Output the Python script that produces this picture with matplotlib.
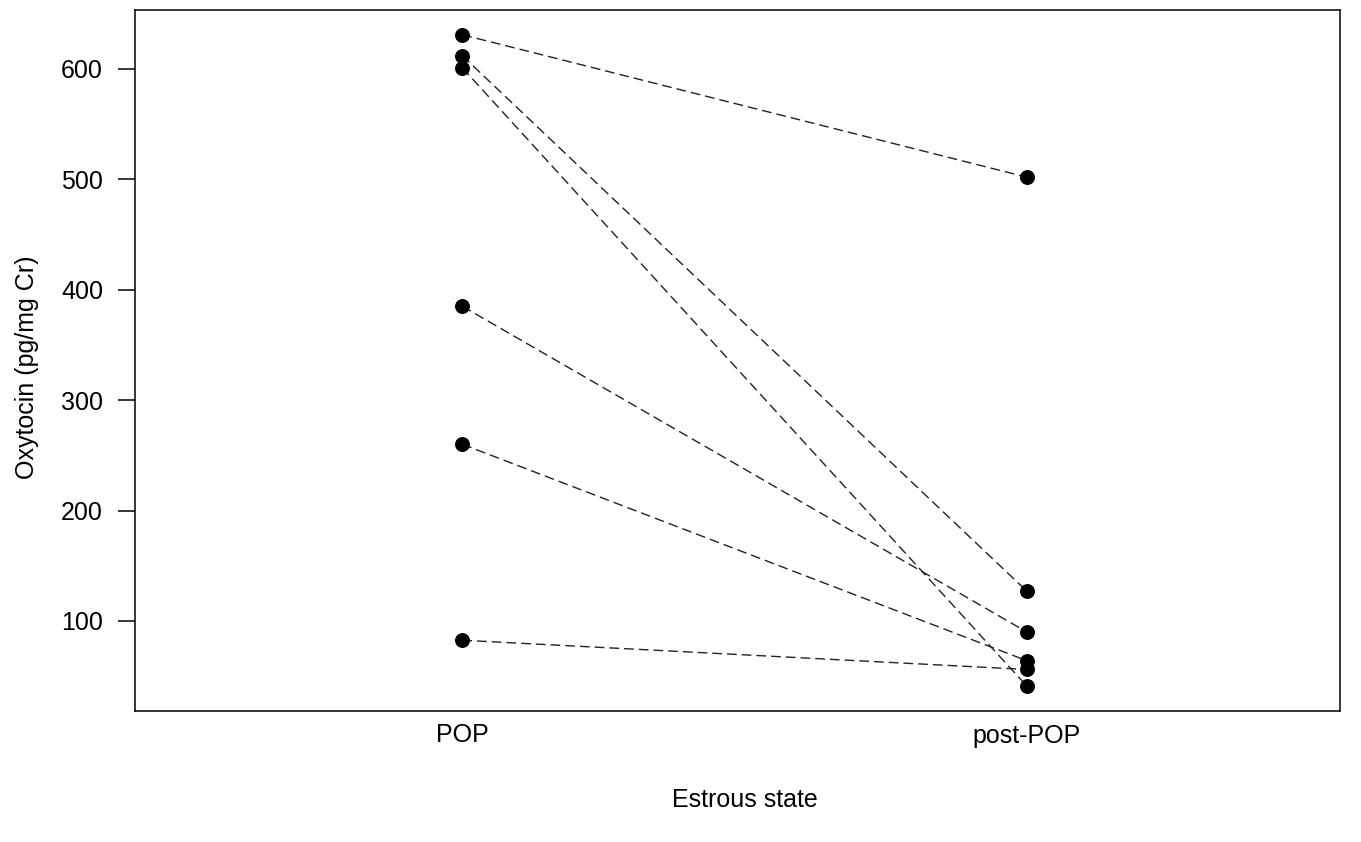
import matplotlib
matplotlib.use("Agg")
import matplotlib.pyplot as plt

states = ["POP", "post-POP"]
pop = [631, 612, 601, 385, 260, 82.5]
post_pop = [502, 127, 41, 90, 64, 56]
yticks = [100, 200, 300, 400, 500, 600]

plt.rcParams["font.family"] = ["Liberation Sans", "DejaVu Sans"]

fig = plt.figure(figsize=(13.61, 8.42), dpi=100)
ax = fig.add_axes([135 / 1361, 1 - 711 / 842, 1205 / 1361, 701 / 842])

# paired lines, one per animal
for a, b in zip(pop, post_pop):
    ax.plot([1, 2], [a, b], color="#222222", lw=1.0, ls=(0, (7, 3.6)), zorder=1)
ax.scatter([1] * len(pop), pop, s=95, color="black", zorder=2)
ax.scatter([2] * len(post_pop), post_pop, s=95, color="black", zorder=2)

ax.set_xlim(0.42, 2.555)
ax.set_ylim(18.4, 653.4)
ax.set_yticks(yticks)
ax.set_xticks([1, 2])
ax.set_xticklabels(states)
ax.tick_params(axis="y", direction="out", length=12, width=1.1, pad=11, labelsize=18)
ax.tick_params(axis="x", length=0, pad=9, labelsize=18)
for sp in ax.spines.values():
    sp.set_linewidth(1.1)

ax.set_ylabel("Oxytocin (pg/mg Cr)", fontsize=18)
ax.yaxis.set_label_coords(-0.08, 0.49)
ax.text(0.506, -0.127, "Estrous state", transform=ax.transAxes, ha="center", va="center", fontsize=18)

fig.savefig("out.png", dpi=100)
